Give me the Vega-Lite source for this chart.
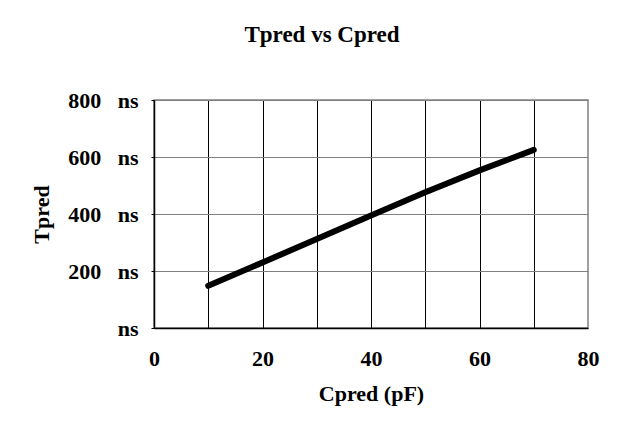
{
  "$schema": "https://vega.github.io/schema/vega-lite/v6.json",
  "width": 434,
  "height": 228,
  "autosize": "none",
  "padding": {"left": 154, "top": 100, "right": 45, "bottom": 97},
  "background": "white",
  "title": {
    "text": "Tpred  vs Cpred",
    "font": "Liberation Serif",
    "fontSize": 23,
    "fontWeight": "bold",
    "color": "black",
    "anchor": "middle",
    "dx": -49,
    "offset": 42
  },
  "data": {
    "values": [
      {"Cpred": 10, "Tpred": 148},
      {"Cpred": 20, "Tpred": 230},
      {"Cpred": 30, "Tpred": 312},
      {"Cpred": 40, "Tpred": 395},
      {"Cpred": 50, "Tpred": 476},
      {"Cpred": 60, "Tpred": 553},
      {"Cpred": 70, "Tpred": 625}
    ]
  },
  "mark": {"type": "line", "color": "black", "strokeWidth": 6, "strokeCap": "round", "strokeJoin": "round"},
  "encoding": {
    "x": {
      "field": "Cpred",
      "type": "quantitative",
      "scale": {"domain": [0, 80], "nice": false},
      "axis": {
        "title": "Cpred (pF)",
        "values": [0, 10, 20, 30, 40, 50, 60, 70, 80],
        "labelExpr": "datum.value % 20 == 0 ? datum.label : ''",
        "grid": true,
        "gridColor": {"condition": {"test": "datum.value == 0 || datum.value == 80", "value": "transparent"}, "value": "black"},
        "gridWidth": 1,
        "ticks": false,
        "domainColor": "black",
        "domainWidth": 1.5,
        "labelPadding": 20,
        "titlePadding": 14
      }
    },
    "y": {
      "field": "Tpred",
      "type": "quantitative",
      "scale": {"domain": [0, 800], "nice": false},
      "axis": {
        "title": "Tpred",
        "values": [0, 200, 400, 600, 800],
        "labelExpr": "datum.value == 0 ? 'ns' : datum.value + '\u00a0\u00a0\u00a0ns'",
        "grid": true,
        "gridColor": {"condition": {"test": "datum.value == 0", "value": "transparent"}, "value": "#808080"},
        "gridWidth": 1,
        "tickSize": 3,
        "tickColor": "black",
        "domainColor": "black",
        "domainWidth": 1.5,
        "labelPadding": 13,
        "titlePadding": 14
      }
    }
  },
  "config": {
    "view": {"stroke": "#808080", "strokeWidth": 1.5},
    "axis": {
      "labelFont": "Liberation Serif",
      "labelFontSize": 22,
      "labelFontWeight": "bold",
      "labelColor": "black",
      "titleFont": "Liberation Serif",
      "titleFontSize": 22,
      "titleFontWeight": "bold",
      "titleColor": "black",
      "labelFlush": false,
      "labelOverlap": false
    }
  }
}
